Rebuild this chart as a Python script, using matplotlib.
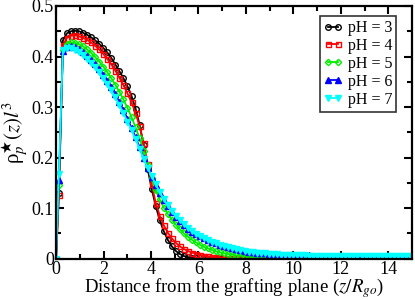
import numpy as np
import matplotlib
matplotlib.use("Agg")
import matplotlib.pyplot as plt

# z grid (units of R_go): origin point then uniform lattice
z = np.concatenate([[0.0], 0.12 + 0.17 * np.arange(88)])

ph3 = [0, 0.13, 0.432, 0.446, 0.45, 0.451, 0.45, 0.447, 0.443, 0.438,
       0.432, 0.425, 0.417, 0.408, 0.397, 0.384, 0.371, 0.357, 0.341, 0.322,
       0.297, 0.265, 0.225, 0.178, 0.138, 0.104, 0.076, 0.054, 0.037, 0.024,
       0.015, 0.009, 0.005, 0.003, 0.002, 0.001, 0.0005, 0, 0, 0,
       0, 0, 0, 0, 0, 0, 0, 0, 0, 0,
       0, 0, 0, 0, 0, 0, 0, 0, 0, 0,
       0, 0, 0, 0, 0, 0, 0, 0, 0, 0,
       0, 0, 0, 0, 0, 0, 0, 0, 0, 0,
       0, 0, 0, 0, 0, 0, 0, 0, 0]
ph4 = [0, 0.125, 0.422, 0.437, 0.441, 0.442, 0.44, 0.437, 0.433, 0.428,
       0.421, 0.414, 0.405, 0.395, 0.384, 0.372, 0.358, 0.343, 0.327, 0.309,
       0.288, 0.262, 0.228, 0.188, 0.148, 0.11, 0.085, 0.066, 0.051, 0.040,
       0.031, 0.024, 0.019, 0.015, 0.012, 0.0093, 0.0073, 0.0057, 0.0045, 0.0036,
       0.0029, 0.0023, 0.0018, 0.0015, 0.0012, 0.001, 0.0008, 0.0007, 0.0006, 0.0005,
       0.0004, 0.0004, 0.0004, 0.0003, 0.0003, 0.0003, 0.0003, 0.0003, 0.0003, 0.0003,
       0.0003, 0.0003, 0.0003, 0.0003, 0.0003, 0.0003, 0.0003, 0.0003, 0.0003, 0.0003,
       0.0003, 0.0003, 0.0003, 0.0003, 0.0003, 0.0003, 0.0003, 0.0003, 0.0003, 0.0003,
       0.0003, 0.0003, 0.0003, 0.0003, 0.0003, 0.0003, 0.0003, 0.0003, 0.0003]
ph5 = [0, 0.145, 0.412, 0.425, 0.428, 0.427, 0.424, 0.42, 0.414, 0.407,
       0.399, 0.39, 0.38, 0.369, 0.357, 0.344, 0.33, 0.315, 0.298, 0.28,
       0.26, 0.238, 0.213, 0.186, 0.159, 0.136, 0.117, 0.101, 0.088, 0.077,
       0.067, 0.058, 0.050, 0.043, 0.037, 0.032, 0.027, 0.023, 0.020, 0.017,
       0.0145, 0.0123, 0.0105, 0.009, 0.0077, 0.0066, 0.0056, 0.0048, 0.0041, 0.0035,
       0.003, 0.0026, 0.0022, 0.0019, 0.0016, 0.0014, 0.0012, 0.0011, 0.001, 0.0009,
       0.0008, 0.0008, 0.0008, 0.0008, 0.0007, 0.0007, 0.0007, 0.0007, 0.0007, 0.0006,
       0.0006, 0.0006, 0.0006, 0.0006, 0.0006, 0.0006, 0.0006, 0.0005, 0.0005, 0.0005,
       0.0005, 0.0005, 0.0005, 0.0005, 0.0005, 0.0005, 0.0005, 0.0005, 0.0005]
ph6 = [0, 0.155, 0.41, 0.419, 0.42, 0.418, 0.414, 0.409, 0.402, 0.394,
       0.385, 0.375, 0.364, 0.352, 0.339, 0.325, 0.31, 0.294, 0.277, 0.259,
       0.24, 0.22, 0.199, 0.18, 0.162, 0.145, 0.13, 0.116, 0.104, 0.093,
       0.083, 0.074, 0.066, 0.059, 0.053, 0.048, 0.044, 0.040, 0.036, 0.033,
       0.030, 0.027, 0.025, 0.023, 0.021, 0.019, 0.017, 0.0155, 0.014, 0.013,
       0.012, 0.011, 0.0102, 0.0095, 0.0089, 0.0084, 0.008, 0.0076, 0.0073, 0.007,
       0.0068, 0.0066, 0.0064, 0.0062, 0.0061, 0.006, 0.0059, 0.0058, 0.0058, 0.0057,
       0.0057, 0.0056, 0.0056, 0.0055, 0.0055, 0.0054, 0.0054, 0.0053, 0.0053, 0.0052,
       0.0052, 0.0052, 0.0051, 0.0051, 0.0051, 0.005, 0.005, 0.005, 0.005]
ph7 = [0, 0.168, 0.412, 0.417, 0.416, 0.413, 0.409, 0.403, 0.396, 0.388,
       0.379, 0.369, 0.358, 0.346, 0.333, 0.319, 0.304, 0.288, 0.271, 0.254,
       0.236, 0.217, 0.198, 0.18, 0.163, 0.147, 0.132, 0.118, 0.106, 0.095,
       0.085, 0.076, 0.068, 0.061, 0.055, 0.049, 0.044, 0.040, 0.036, 0.033,
       0.030, 0.027, 0.025, 0.023, 0.021, 0.019, 0.017, 0.0155, 0.014, 0.013,
       0.012, 0.011, 0.0101, 0.0094, 0.0088, 0.0083, 0.0078, 0.0074, 0.0071, 0.0068,
       0.0066, 0.0064, 0.0062, 0.006, 0.0059, 0.0058, 0.0057, 0.0056, 0.0056, 0.0055,
       0.0055, 0.0054, 0.0054, 0.0053, 0.0053, 0.0052, 0.0052, 0.0051, 0.0051, 0.005,
       0.005, 0.005, 0.0049, 0.0049, 0.0049, 0.0048, 0.0048, 0.0048, 0.0048]

labels = ["pH = 3", "pH = 4", "pH = 5", "pH = 6", "pH = 7"]
series = [ph3, ph4, ph5, ph6, ph7]
colors = ["black", "#ff0000", "#00ee00", "#0000ff", "#00ffff"]
markers = ["o", "s", "D", "^", "v"]
filled = [False, False, False, True, True]
msizes = [4.0, 3.6, 3.2, 3.8, 4.2]

plt.rcParams["font.family"] = ["Liberation Serif", "DejaVu Serif"]
plt.rcParams["mathtext.fontset"] = "stix"

fig = plt.figure(figsize=(4.15, 3.0), dpi=100)
ax = fig.add_axes([0.135, 0.138, 0.858, 0.842])

for y, lab, c, m, f, ms in zip(series, labels, colors, markers, filled, msizes):
    ax.plot(z, y, color=c, lw=1.3, marker=m, ms=ms, mew=1.0,
            mfc=c if f else "none", mec=c, label=lab)

ax.set_xlim(0, 15)
ax.set_ylim(0, 0.5)
ax.set_xticks([0, 2, 4, 6, 8, 10, 12, 14])
ax.set_xticks(np.arange(1, 15, 2), minor=True)
ax.set_yticks([0, 0.1, 0.2, 0.3, 0.4, 0.5])
ax.set_yticklabels(["0", "0.1", "0.2", "0.3", "0.4", "0.5"])
ax.set_yticks([0.05, 0.15, 0.25, 0.35, 0.45], minor=True)
ax.tick_params(which="both", direction="in", top=True, right=True,
               labelsize=13, width=1.5, pad=1.5)
ax.tick_params(which="major", length=6)
ax.tick_params(which="minor", length=3.5)
for s in ax.spines.values():
    s.set_linewidth(1.6)

ax.set_xlabel(r"Distance from the grafting plane ($z/R_{go}$)", fontsize=13.5, labelpad=-1)
ax.set_ylabel("ρ" + r"$_p^{\bigstar}(z)l^3$", fontsize=15, labelpad=1)

leg = ax.legend(loc="upper right", bbox_to_anchor=(0.955, 0.96), numpoints=2,
                fontsize=11.5, frameon=True, fancybox=False, edgecolor="black",
                handlelength=1.2, handletextpad=0.3, borderpad=0.25,
                labelspacing=0.12, borderaxespad=0)
leg.get_frame().set_linewidth(1.2)

fig.savefig("out.png", dpi=100)
